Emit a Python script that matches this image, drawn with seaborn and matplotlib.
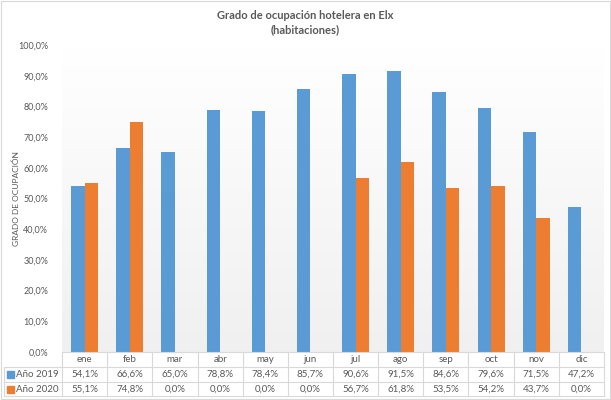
import numpy as np
import pandas as pd
import matplotlib
matplotlib.use("Agg")
import matplotlib.pyplot as plt
import matplotlib.transforms as mtransforms
from matplotlib.colors import LinearSegmentedColormap
from matplotlib.ticker import FuncFormatter
import seaborn as sns

# Data
meses = ["ene", "feb", "mar", "abr", "may", "jun", "jul", "ago", "sep", "oct", "nov", "dic"]
ocup_2019 = [54.1, 66.6, 65.0, 78.8, 78.4, 85.7, 90.6, 91.5, 84.6, 79.6, 71.5, 47.2]
ocup_2020 = [55.1, 74.8, 0.0, 0.0, 0.0, 0.0, 56.7, 61.8, 53.5, 54.2, 43.7, 0.0]
series = ["Año 2019", "Año 2020"]
colores = ["#5B9BD5", "#ED7D31"]

df = pd.DataFrame({
    "mes": meses * 2,
    "valor": np.array(ocup_2019 + ocup_2020) / 100,
    "serie": [series[0]] * 12 + [series[1]] * 12,
})

sns.set_style("white")
plt.rcParams["font.family"] = ["Lato", "DejaVu Sans"]
txt = "#595959"
W, H = 611, 400

fig = plt.figure(figsize=(6.11, 4.0), dpi=100)
fig.patch.set_facecolor("white")
ax = fig.add_axes([62 / W, 1 - 352 / H, (604 - 62) / W, (352 - 45) / H])

# faint gradient behind bars
grad = LinearSegmentedColormap.from_list("g", ["#F0F0F0", "#FFFFFF"])
ax.imshow(np.linspace(0, 1, 100).reshape(-1, 1), extent=[-0.5, 11.5, 0, 1],
          origin="lower", aspect="auto", cmap=grad, zorder=0)

sns.barplot(data=df, x="mes", y="valor", hue="serie", palette=colores,
            width=0.6, ax=ax, legend=False, zorder=2, saturation=1, linewidth=0)

ax.set_xlim(-0.5, 11.5)
ax.set_ylim(0, 1.0)
ax.set_yticks(np.arange(0, 1.01, 0.1))
ax.yaxis.set_major_formatter(FuncFormatter(lambda v, p: f"{v*100:.1f}%".replace(".", ",")))
ax.tick_params(axis="y", labelsize=6.5, colors=txt, length=0, pad=10)
ax.set_xticks([])
ax.set_xlabel("")
ax.set_ylabel("GRADO DE OCUPACIÓN", fontsize=6, color=txt)
ax.yaxis.set_label_coords((20 - 62) / (604 - 62), 0.5)
for s in ax.spines.values():
    s.set_visible(False)

fig.text(0.5, 1 - 10 / H, "Grado de ocupación hotelera en Elx\n(habitaciones)",
         ha="center", va="top", fontsize=8, fontweight="bold", color=txt, linespacing=1.3)

# data table under the plot
tr = mtransforms.blended_transform_factory(ax.transData, fig.transFigure)
line_c = "#D9D9D9"
fy = lambda py: 1 - py / H
y_top, y_r1, y_r2, y_bot = 352, 367, 382, 396
for b in np.arange(-0.5, 12, 1):
    ax.add_line(plt.Line2D([b, b], [fy(y_top), fy(y_bot)], transform=tr, color=line_c,
                           lw=0.8, clip_on=False))
ax.add_line(plt.Line2D([-0.5, 11.5], [fy(y_top), fy(y_top)], transform=tr, color=line_c,
                       lw=0.8, clip_on=False))
for yy in (y_r1, y_r2, y_bot):
    fig.add_artist(plt.Line2D([4 / W, 604 / W], [fy(yy), fy(yy)], color=line_c, lw=0.8))
fig.add_artist(plt.Line2D([4 / W, 4 / W], [fy(y_r1), fy(y_bot)], color=line_c, lw=0.8))

for i, m in enumerate(meses):
    ax.text(i, fy((y_top + y_r1) / 2), m, transform=tr, ha="center", va="center",
            fontsize=7, color=txt)
    ax.text(i, fy((y_r1 + y_r2) / 2), f"{ocup_2019[i]:.1f}%".replace(".", ","),
            transform=tr, ha="center", va="center", fontsize=7, color=txt)
    ax.text(i, fy((y_r2 + y_bot) / 2), f"{ocup_2020[i]:.1f}%".replace(".", ","),
            transform=tr, ha="center", va="center", fontsize=7, color=txt)

for k, (lab, c) in enumerate(zip(series, colores)):
    yc = (y_r1 + y_r2) / 2 if k == 0 else (y_r2 + y_bot) / 2
    fig.add_artist(plt.Rectangle((7 / W, fy(yc + 3.5)), 7 / W, 7 / H, color=c))
    fig.text(16 / W, fy(yc), lab, ha="left", va="center", fontsize=7, color=txt)

# outer chart border
fig.add_artist(plt.Rectangle((1 / W, 1 / H), 1 - 2 / W, 1 - 2 / H, fill=False,
                             ec="#D9D9D9", lw=0.8))

fig.savefig("out.png", dpi=100)
